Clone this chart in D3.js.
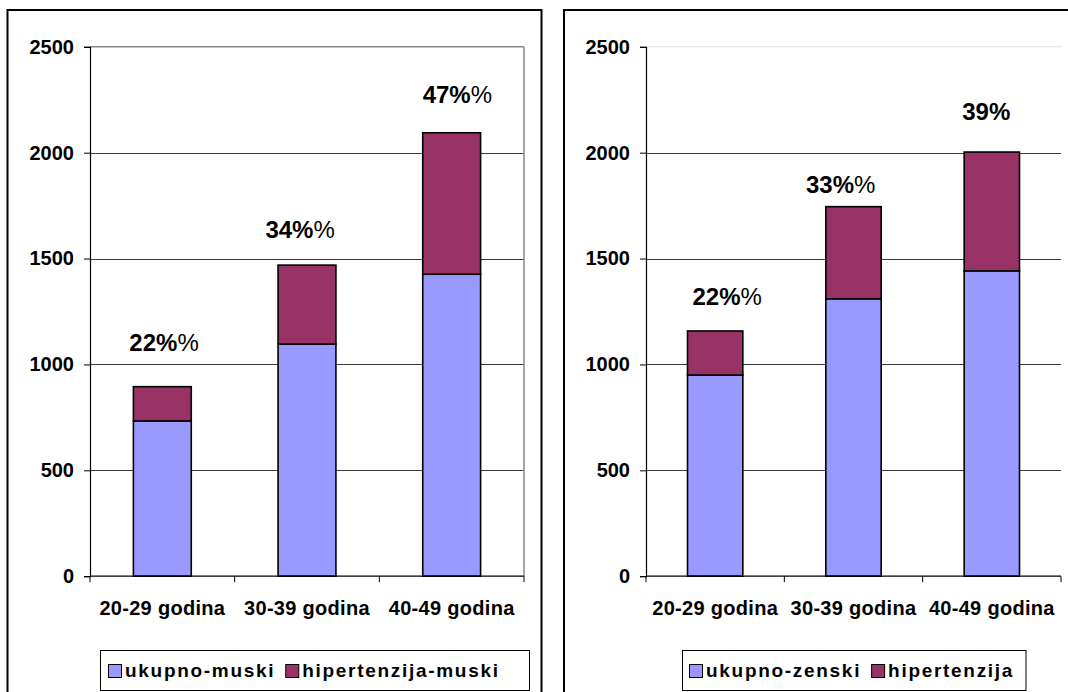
<!DOCTYPE html>
<html>
<head>
<meta charset="utf-8">
<script src="https://cdn.jsdelivr.net/npm/d3@7"></script>
<style>
  html, body { margin: 0; padding: 0; background: #fff; }
  svg { display: block; }
  text { font-family: "Liberation Sans", Arial, Helvetica, sans-serif; fill: #000; }
</style>
</head>
<body>
<svg id="chart" width="1068" height="692"></svg>
<script>
// Age groups on the category axis
const categories = ["20-29 godina", "30-39 godina", "40-49 godina"];

// Men: total examined and those with hypertension (stacked on top)
const ukupnoMuski = [733, 1096, 1426];
const hipertenzijaMuski = [162, 373, 668];

// Women: total examined and those with hypertension (stacked on top)
const ukupnoZenski = [950, 1310, 1442];
const hipertenzijaZenski = [208, 435, 561];

// Value axis ticks
const yTicks = [0, 500, 1000, 1500, 2000, 2500];

// Legend entries
const legendMuski = ["ukupno-muski", "hipertenzija-muski"];
const legendZenski = ["ukupno-zenski", "hipertenzija"];

// Extra text appended after each percentage label
const suffixMuski = ["%", "%", "%"];
const suffixZenski = ["%", "%", ""];

const COLORS = ["#9999FF", "#993366"];

const svg = d3.select("#chart");

function drawPanel(cfg) {
  const g = svg.append("g");

  // outer chart frame
  g.append("rect")
    .attr("x", cfg.frame[0]).attr("y", 10)
    .attr("width", cfg.frame[1] - cfg.frame[0]).attr("height", 720)
    .attr("fill", "#fff").attr("stroke", "#000").attr("stroke-width", 2);

  const y = d3.scaleLinear().domain([0, 2500]).range([576.2, 46.8]);
  const xBar = d3.scaleBand().domain(cfg.categories)
    .range([cfg.plot[0], cfg.plot[1]]).paddingInner(0.6).paddingOuter(0.3);
  const xCat = d3.scaleBand().domain(cfg.categories)
    .range([cfg.plot[0], cfg.plot[1]]).padding(0);

  // gridlines
  g.append("g").selectAll("line")
    .data(yTicks.filter(v => v > 0 && v < 2500))
    .join("line")
    .attr("x1", cfg.plot[0]).attr("x2", cfg.plot[1])
    .attr("y1", d => Math.round(y(d)) + 0.5).attr("y2", d => Math.round(y(d)) + 0.5)
    .attr("stroke", "#3a3a3a").attr("stroke-width", 1);

  // top edge of the plot area (and right edge where present)
  g.append("line")
    .attr("x1", cfg.plot[0]).attr("x2", cfg.plot[1])
    .attr("y1", y(2500)).attr("y2", y(2500))
    .attr("stroke", cfg.topColor).attr("stroke-width", cfg.topWidth);
  if (cfg.rightEdge) {
    g.append("line")
      .attr("x1", cfg.plot[1]).attr("x2", cfg.plot[1])
      .attr("y1", y(2500)).attr("y2", y(0))
      .attr("stroke", "#888").attr("stroke-width", 1.5);
  }

  // stacked bars
  const stacks = d3.stack().keys([0, 1])(
    cfg.categories.map((c, i) => ({ cat: c, 0: cfg.base[i], 1: cfg.hyp[i] }))
  );
  g.append("g").selectAll("g")
    .data(stacks)
    .join("g")
    .attr("fill", (d, i) => COLORS[i])
    .selectAll("rect")
    .data(d => d)
    .join("rect")
    .attr("x", d => xBar(d.data.cat))
    .attr("width", xBar.bandwidth())
    .attr("y", d => y(d[1]))
    .attr("height", d => y(d[0]) - y(d[1]))
    .attr("stroke", "#000").attr("stroke-width", 1.6);

  // value axis
  const yAxis = g.append("g")
    .attr("transform", `translate(${cfg.plot[0]},0)`)
    .call(d3.axisLeft(y).tickValues(yTicks).tickSize(6).tickPadding(10).tickFormat(d3.format("d")));
  yAxis.select(".domain").attr("stroke", "#000").attr("stroke-width", 1.2);
  yAxis.selectAll(".tick line").attr("stroke", "#000");
  yAxis.selectAll(".tick text")
    .attr("font-size", 20).attr("font-weight", "bold")
    .attr("font-family", '"Liberation Sans", Arial, sans-serif');

  // category axis with ticks between the groups
  const xAxis = g.append("g")
    .attr("transform", `translate(0,${y(0)})`);
  xAxis.append("line")
    .attr("x1", cfg.plot[0]).attr("x2", cfg.plot[1])
    .attr("stroke", "#000").attr("stroke-width", 1.2);
  const bounds = cfg.categories.map(c => xCat(c)).concat([cfg.plot[1]]);
  xAxis.selectAll("line.tk").data(bounds).join("line").attr("class", "tk")
    .attr("x1", d => d).attr("x2", d => d)
    .attr("y1", 0).attr("y2", 6)
    .attr("stroke", "#000");
  g.append("g").selectAll("text")
    .data(cfg.categories)
    .join("text")
    .attr("x", d => xCat(d) + xCat.bandwidth() / 2)
    .attr("y", 615)
    .attr("text-anchor", "middle")
    .attr("font-size", 20).attr("font-weight", "bold")
    .attr("letter-spacing", 0.3)
    .text(d => d);

  // percentage labels above the bars
  cfg.categories.forEach((c, i) => {
    const pct = Math.round(cfg.hyp[i] / cfg.base[i] * 100);
    const cx = xBar(c) + xBar.bandwidth() / 2;
    const top = y(cfg.base[i] + cfg.hyp[i]);
    const t = g.append("text")
      .attr("x", cx + cfg.labelDx[i])
      .attr("y", top - cfg.labelLift[i])
      .attr("font-size", 24);
    t.append("tspan").attr("font-weight", "bold").text(pct + "%");
    if (cfg.suffix[i]) t.append("tspan").attr("font-weight", "normal").text(cfg.suffix[i]);
  });

  // legend
  const lg = g.append("g");
  lg.append("rect")
    .attr("x", cfg.legendBox[0] + 0.5).attr("y", 650.5)
    .attr("width", cfg.legendBox[1] - cfg.legendBox[0]).attr("height", 40)
    .attr("fill", "#fff").attr("stroke", "#000").attr("stroke-width", 1);
  let lx = cfg.legendBox[0] + cfg.legendPad;
  cfg.legend.forEach((name, i) => {
    lg.append("rect")
      .attr("x", lx + 0.5).attr("y", 664.5).attr("width", 13).attr("height", 13)
      .attr("fill", COLORS[i]).attr("stroke", "#000").attr("stroke-width", 1);
    const t = lg.append("text")
      .attr("x", lx + 17).attr("y", 677)
      .attr("font-size", 19).attr("font-weight", "bold")
      .attr("letter-spacing", 1.7)
      .text(name);
    lx += 17 + t.node().getComputedTextLength() + 10;
  });
}

drawPanel({
  frame: [7.5, 541.5],
  plot: [90, 524],
  categories,
  base: ukupnoMuski,
  hyp: hipertenzijaMuski,
  suffix: suffixMuski,
  labelDx: [-33, -41.6, -29],
  labelLift: [36, 26.7, 29.4],
  topColor: "#888", topWidth: 1.5, rightEdge: true,
  legend: legendMuski,
  legendBox: [100, 529], legendPad: 8
});

drawPanel({
  frame: [564, 1110],
  plot: [646, 1061],
  categories,
  base: ukupnoZenski,
  hyp: hipertenzijaZenski,
  suffix: suffixZenski,
  labelDx: [-22.7, -47.5, -29.6],
  labelLift: [26, 13.4, 32],
  topColor: "#ddd", topWidth: 1, rightEdge: false,
  legend: legendZenski,
  legendBox: [682, 1025.5], legendPad: 7
});
</script>
</body>
</html>
